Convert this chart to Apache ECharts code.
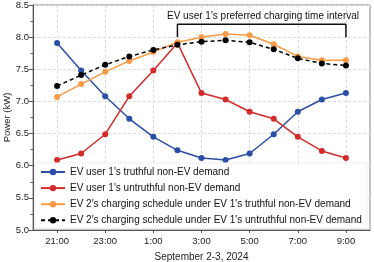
<!DOCTYPE html>
<html>
<head>
<meta charset="utf-8">
<script src="https://cdn.jsdelivr.net/npm/echarts@6/dist/echarts.min.js"></script>
<style>
html,body{margin:0;padding:0;background:#fff;}
#chart{width:374px;height:262px;}
</style>
</head>
<body>
<div id="chart"></div>
<script>
// Axis categories (hourly, Sept 2-3, 2024)
var hourCategories = ['20:00','21:00','22:00','23:00','0:00','1:00','2:00','3:00','4:00','5:00','6:00','7:00','8:00','9:00','10:00'];
var dataHours = ['21:00','22:00','23:00','0:00','1:00','2:00','3:00','4:00','5:00','6:00','7:00','8:00','9:00'];

var seriesNames = [
  "EV user 1's truthful non-EV demand",
  "EV user 1's untruthful non-EV demand",
  "EV 2's charging schedule under EV 1's truthful non-EV demand",
  "EV 2's charging schedule under EV 1's untruthful non-EV demand"
];
var truthfulDemand   = [7.91, 7.48, 7.08, 6.73, 6.45, 6.24, 6.12, 6.09, 6.19, 6.49, 6.84, 7.03, 7.13];
var untruthfulDemand = [6.09, 6.19, 6.49, 7.08, 7.48, 7.91, 7.13, 7.03, 6.84, 6.73, 6.45, 6.23, 6.12];
var ev2Truthful      = [7.07, 7.27, 7.46, 7.63, 7.77, 7.92, 8.00, 8.05, 8.03, 7.89, 7.70, 7.64, 7.64];
var ev2Untruthful    = [7.24, 7.41, 7.57, 7.70, 7.80, 7.88, 7.93, 7.95, 7.92, 7.81, 7.67, 7.59, 7.56];

// Preferred charging interval annotation
var intervalStart = '2:00';
var intervalEnd = '9:00';
var bracketLow = 8.0;
var bracketHigh = 8.2;
var intervalText = "EV user 1's preferred charging time interval";

function pairs(vals){ return dataHours.map(function(h,i){ return [h, vals[i]]; }); }

var colors = ['#2b4ea6', '#d42a2a', '#fb9a44', '#000000'];
var font = 'Liberation Sans, Arial, sans-serif';

function mkSeries(name, vals, color, dashed){
  return {
    name: name, type: 'line', data: pairs(vals),
    symbol: 'circle', symbolSize: 6,
    itemStyle: {color: color},
    lineStyle: {color: color, width: 1.5, type: dashed ? [4,3] : 'solid'},
    z: 3
  };
}

var chart = echarts.init(document.getElementById('chart'), null, {renderer:'canvas'});
chart.setOption({
  animation: false,
  backgroundColor: '#fff',
  title: {
    text: intervalText,
    left: 258, top: 6, textAlign: 'center',
    textStyle: {fontFamily: font, fontSize: 10, fontWeight: 'normal', color: '#111'}
  },
  grid: {left: 33, right: 4, top: 5, bottom: 32, show: true, borderColor: '#888', borderWidth: 1,
         containLabel: false, outerBoundsMode: 'none'},
  legend: {
    orient: 'vertical', left: 35, top: 163, padding: [4, 5, 3, 5],
    itemWidth: 24, itemHeight: 8, itemGap: 6.1,
    backgroundColor: '#fff', borderColor: '#eeeeee', borderWidth: 1,
    textStyle: {fontFamily: font, fontSize: 10, color: '#111'},
    data: seriesNames
  },
  xAxis: {
    type: 'category', data: hourCategories, boundaryGap: false,
    name: 'September 2-3, 2024', nameLocation: 'middle', nameGap: 22,
    nameTextStyle: {fontFamily: font, fontSize: 10, color: '#222'},
    axisLine: {lineStyle: {color: '#555'}},
    axisTick: {show: true, length: 3, interval: function(i){ return i % 2 === 1; }, lineStyle: {color: '#555'}},
    axisLabel: {interval: function(i){ return i % 2 === 1; }, fontFamily: font, fontSize: 9.5, color: '#222', margin: 6},
    splitLine: {show: true, interval: function(i){ return i % 2 === 1; }, lineStyle: {color: '#ddd', type: [3,2]}}
  },
  yAxis: {
    type: 'value', min: 5, max: 8.5, interval: 0.5,
    name: 'Power (kW)', nameLocation: 'middle', nameGap: 21, nameMoveOverlap: false,
    nameTextStyle: {fontFamily: font, fontSize: 9.5, color: '#222'},
    axisLine: {show: true, lineStyle: {color: '#555'}},
    axisTick: {show: true, length: 4, lineStyle: {color: '#555'}},
    minorTick: {show: true, splitNumber: 2, length: 2.5, lineStyle: {color: '#555'}},
    axisLabel: {fontFamily: font, fontSize: 9.5, color: '#222', margin: 4,
      formatter: function(v){ return v.toFixed(1); }},
    splitLine: {show: true, lineStyle: {color: '#ddd', type: [3,2]}}
  },
  series: [
    mkSeries(seriesNames[0], truthfulDemand, colors[0], false),
    mkSeries(seriesNames[1], untruthfulDemand, colors[1], false),
    mkSeries(seriesNames[2], ev2Truthful, colors[2], false),
    mkSeries(seriesNames[3], ev2Untruthful, colors[3], true),
    {
      name: 'bracket', type: 'line', silent: true, symbol: 'none',
      data: [[intervalStart, bracketLow], [intervalStart, bracketHigh], [intervalEnd, bracketHigh], [intervalEnd, bracketLow]],
      lineStyle: {color: '#111', width: 1.5}, z: 2
    }
  ]
});
</script>
</body>
</html>
